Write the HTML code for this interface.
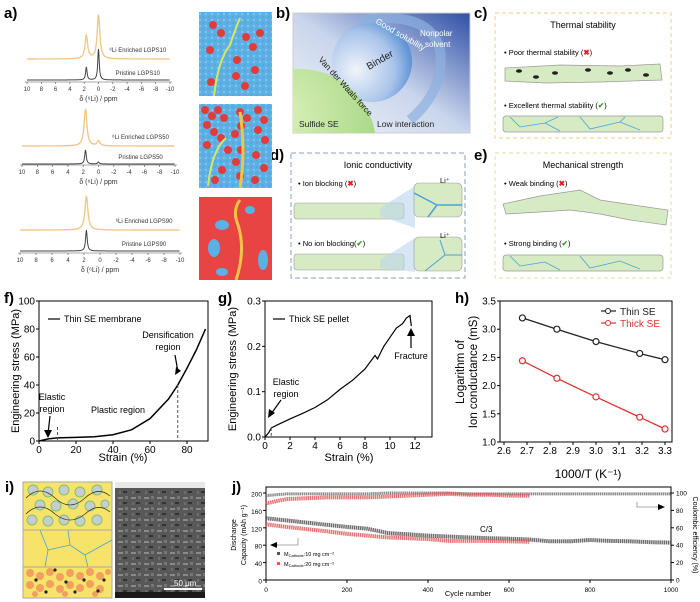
<!DOCTYPE html>
<html><head><meta charset="utf-8"><style>
html,body{margin:0;padding:0;background:#fff}
svg{display:block;font-family:"Liberation Sans",Arial,sans-serif}
</style></head><body>
<svg id="fig" width="700" height="602" viewBox="0 0 700 602" xmlns="http://www.w3.org/2000/svg">
<defs>
<linearGradient id="gb" x1="0" y1="1" x2="1" y2="0"><stop offset="0" stop-color="#f4f6fb"/><stop offset="0.5" stop-color="#c9d5ec"/><stop offset="1" stop-color="#2f4fa6"/></linearGradient>
<radialGradient id="gbind" cx="0.3" cy="0.6" r="0.8"><stop offset="0" stop-color="#f0f4fb"/><stop offset="0.6" stop-color="#a9c4ea"/><stop offset="1" stop-color="#3f7fce"/></radialGradient>
<radialGradient id="ggreen" cx="0.4" cy="0.3" r="0.8"><stop offset="0" stop-color="#d9f0b8"/><stop offset="1" stop-color="#9bd27a"/></radialGradient>
<pattern id="dots" width="6" height="6" patternUnits="userSpaceOnUse"><rect width="6" height="6" fill="#5db0e4"/><circle cx="2" cy="2" r="1.1" fill="#86c6ee"/><circle cx="5" cy="5" r="0.8" fill="#4a9fd6"/></pattern>
<pattern id="sem" width="13" height="11" patternUnits="userSpaceOnUse"><rect width="13" height="11" fill="#585858"/><rect x="1" y="2" width="5" height="2" fill="#8a8a8a"/><rect x="6" y="7" width="4" height="2" fill="#333"/><rect x="8" y="1" width="3" height="3" fill="#777"/><rect x="2" y="7" width="2" height="3" fill="#6d6d6d"/></pattern>
</defs>

<g font-weight="bold" font-size="15">
<text x="4" y="18">a)</text>
<text x="276" y="18">b)</text>
<text x="474" y="18">c)</text>
<text x="270" y="160">d)</text>
<text x="474" y="160">e)</text>
<text x="4" y="303">f)</text>
<text x="218" y="303">g)</text>
<text x="455" y="303">h)</text>
<text x="5" y="492">i)</text>
<text x="232" y="492">j)</text>
</g>

<g id="nmr"></g>

<g>
<rect x="199" y="12" width="73" height="84" fill="url(#dots)"/>
<g fill="#e23b3b"><circle cx="213" cy="25" r="4"/><circle cx="221" cy="33" r="4"/><circle cx="246" cy="37" r="4"/><circle cx="260" cy="33" r="4"/><circle cx="210" cy="50" r="4"/><circle cx="253" cy="47" r="4"/><circle cx="237" cy="60" r="4"/><circle cx="236" cy="76" r="4"/><circle cx="211" cy="82" r="4"/><circle cx="245" cy="86" r="4"/><circle cx="255" cy="70" r="4"/></g>
<path d="M214 96 Q218 60 230 45 Q235 30 240 18" stroke="#d8e85a" stroke-width="2" fill="none"/>
<rect x="199" y="104" width="73" height="84" fill="url(#dots)"/>
<g fill="#e23b3b"><circle cx="205" cy="110" r="4"/><circle cx="212" cy="116" r="4"/><circle cx="218" cy="110" r="4"/><circle cx="224" cy="118" r="4"/><circle cx="207" cy="125" r="4"/><circle cx="214" cy="132" r="4"/><circle cx="221" cy="138" r="4"/><circle cx="207" cy="145" r="4"/><circle cx="240" cy="112" r="4"/><circle cx="247" cy="118" r="4"/><circle cx="241" cy="126" r="4"/><circle cx="235" cy="134" r="4"/><circle cx="241" cy="150" r="4"/><circle cx="236" cy="162" r="4"/><circle cx="240" cy="176" r="4"/><circle cx="258" cy="110" r="4"/><circle cx="264" cy="120" r="4"/><circle cx="258" cy="130" r="4"/><circle cx="265" cy="140" r="4"/><circle cx="256" cy="155" r="4"/><circle cx="264" cy="168" r="4"/><circle cx="255" cy="180" r="4"/><circle cx="222" cy="170" r="4"/><circle cx="215" cy="180" r="4"/><circle cx="228" cy="150" r="4"/></g>
<path d="M208 186 Q212 150 226 138" stroke="#d8e85a" stroke-width="2" fill="none"/><path d="M240 188 Q246 150 240 112" stroke="#f4c542" stroke-width="3" fill="none"/>
<rect x="199" y="197" width="73" height="83" fill="#e84444"/>
<g fill="#5db0e4"><ellipse cx="222" cy="225" rx="7" ry="5"/><ellipse cx="214" cy="248" rx="6" ry="9"/><ellipse cx="263" cy="260" rx="5" ry="10"/><ellipse cx="250" cy="210" rx="5" ry="4"/><ellipse cx="222" cy="272" rx="6" ry="4"/></g>
<path d="M236 280 Q246 250 238 225 Q232 210 240 200" stroke="#f4c542" stroke-width="3" fill="none"/>
</g>

<g>
<rect x="293" y="13" width="177" height="120" fill="url(#gb)" stroke="#ccc"/>
<clipPath id="cb"><rect x="293" y="13" width="177" height="120"/></clipPath>
<g clip-path="url(#cb)">
<circle cx="372" cy="62" r="40" fill="url(#gbind)"/>
<path d="M360 20 Q430 10 440 50 Q445 90 410 120" stroke="#8fb0e0" stroke-width="10" fill="none" opacity="0.7"/>
<circle cx="300" cy="145" r="76" fill="url(#ggreen)"/>
</g>
<text x="369" y="70" font-size="10" fill="#222" transform="rotate(-30 369 70)">Binder</text>
<text x="375" y="23" font-size="8.5" fill="#fff" transform="rotate(30 375 23)">Good solubility</text>
<text x="420" y="36" font-size="8" fill="#fff">Nonpolar</text>
<text x="425" y="47" font-size="8" fill="#fff">solvent</text>
<text x="318" y="60" font-size="8.5" fill="#222" transform="rotate(48 318 60)">Van der Waals force</text>
<text x="299" y="127" font-size="8.5" fill="#222">Sulfide SE</text>
<text x="377" y="127" font-size="8.5" fill="#222">Low interaction</text>
</g>

<g>
<rect x="495" y="13" width="176" height="125" fill="none" stroke="#e8d08a" stroke-dasharray="4,3"/>
<text x="583" y="28" font-size="9" text-anchor="middle">Thermal stability</text>
<text x="504" y="55" font-size="7.5">•    Poor thermal stability (<tspan fill="#e02020" font-weight="bold">✖</tspan>)</text>
<path d="M505 68 L560 65 L620 66 L660 64 L662 80 L600 82 L545 83 L505 81 Z" fill="#d6eac4" stroke="#999" stroke-width="0.7"/>
<g fill="#222"><ellipse cx="519" cy="71" rx="3" ry="1.8"/><ellipse cx="536" cy="77" rx="3" ry="1.8"/><ellipse cx="555" cy="73" rx="3" ry="1.8"/><ellipse cx="588" cy="70" rx="3" ry="1.8"/><ellipse cx="610" cy="73" rx="3" ry="1.8"/><ellipse cx="628" cy="70" rx="3" ry="1.8"/><ellipse cx="646" cy="75" rx="3" ry="1.8"/></g>
<text x="504" y="108" font-size="7.5">•    Excellent thermal stability (<tspan fill="#3a9a2a" font-weight="bold">✔</tspan>)</text>
<rect x="503" y="116" width="160" height="16" rx="3" fill="#d6eac4" stroke="#999" stroke-width="0.7"/>
<path d="M510 117 L520 127 L545 123 L560 131 M545 123 L558 117 M580 117 L590 129 L620 122 L640 130 M620 122 L625 117" stroke="#4aa3d8" stroke-width="0.8" fill="none"/>
</g>

<g>
<rect x="291" y="153" width="174" height="125" fill="none" stroke="#8aa0c0" stroke-dasharray="5,3"/>
<text x="378" y="168" font-size="9" text-anchor="middle">Ionic conductivity</text>
<text x="298" y="186" font-size="7.5">•    Ion blocking (<tspan fill="#e02020" font-weight="bold">✖</tspan>)</text>
<rect x="294" y="203" width="110" height="16" rx="3" fill="#d6eac4" stroke="#999" stroke-width="0.6"/>
<path d="M380 208 L415 186 L415 228 L380 216 Z" fill="#bcd6ee" opacity="0.6"/>
<rect x="414" y="183" width="48" height="34" rx="5" fill="#d6eac4" stroke="#999" stroke-width="0.6"/>
<path d="M414 193 L437 205 L462 205 M437 205 L428 217" stroke="#4aa3d8" stroke-width="1.5" fill="none"/>
<text x="440" y="183" font-size="7.5">Li⁺</text>
<text x="298" y="246" font-size="7.5">•    No ion blocking(<tspan fill="#3a9a2a" font-weight="bold">✔</tspan>)</text>
<rect x="294" y="254" width="110" height="16" rx="3" fill="#d6eac4" stroke="#999" stroke-width="0.6"/>
<path d="M380 260 L415 238 L415 272 L380 268 Z" fill="#bcd6ee" opacity="0.6"/>
<rect x="414" y="237" width="48" height="34" rx="5" fill="#d6eac4" stroke="#999" stroke-width="0.6"/>
<path d="M425 271 L445 255 L462 255 M445 255 L440 240" stroke="#4aa3d8" stroke-width="1" fill="none"/>
<text x="440" y="238" font-size="7.5">Li⁺</text>
</g>

<g>
<rect x="495" y="153" width="176" height="125" fill="none" stroke="#d8e0a0" stroke-dasharray="4,3"/>
<text x="583" y="168" font-size="9" text-anchor="middle">Mechanical strength</text>
<text x="504" y="186" font-size="7.5">•    Weak binding (<tspan fill="#e02020" font-weight="bold">✖</tspan>)</text>
<path d="M503 204 L540 196 L580 190 L600 200 L640 206 L668 210 L666 225 L630 220 L600 214 L570 210 L540 212 L506 214 Z" fill="#d6eac4" stroke="#999" stroke-width="0.7"/>
<text x="504" y="246" font-size="7.5">•    Strong binding (<tspan fill="#3a9a2a" font-weight="bold">✔</tspan>)</text>
<rect x="503" y="255" width="160" height="16" rx="3" fill="#d6eac4" stroke="#999" stroke-width="0.7"/>
<path d="M510 256 L520 266 L545 262 L560 270 M580 256 L590 268 L620 261 L640 269" stroke="#4aa3d8" stroke-width="0.8" fill="none"/>
</g>

<g id="chartF"></g>
<g id="chartG"></g>
<g id="chartH"></g>

<g>
<rect x="23" y="482" width="89" height="48" fill="#f7e36a" stroke="#aaa"/>
<g fill="#c8ccd0" stroke="#7cc56b" stroke-width="1"><circle cx="33" cy="490" r="5"/><circle cx="48" cy="492" r="5"/><circle cx="64" cy="490" r="5"/><circle cx="80" cy="492" r="5"/><circle cx="97" cy="490" r="5"/><circle cx="40" cy="505" r="5"/><circle cx="56" cy="506" r="5"/><circle cx="73" cy="504" r="5"/><circle cx="90" cy="506" r="5"/><circle cx="105" cy="504" r="4"/><circle cx="32" cy="520" r="5"/><circle cx="48" cy="521" r="5"/><circle cx="64" cy="520" r="5"/><circle cx="80" cy="521" r="5"/><circle cx="97" cy="520" r="5"/></g>
<path d="M26 498 Q40 484 55 498 Q70 512 85 498 Q98 486 110 496 M26 514 Q40 500 55 514 Q70 526 85 514 Q98 502 110 512" stroke="#3a3a2a" stroke-width="0.8" fill="none"/>
<rect x="23" y="530" width="89" height="37" fill="#f7e36a" stroke="#aaa"/>
<path d="M40 530 L48 550 L45 567 M48 550 L70 545 L85 555 L112 540 M70 545 L68 530 M85 555 L88 567" stroke="#4aa3d8" stroke-width="0.8" fill="none"/>
<rect x="23" y="567" width="89" height="31" fill="#f7e36a" stroke="#aaa"/>
<g fill="#f2a060"><circle cx="30" cy="573" r="4"/><circle cx="40" cy="576" r="4"/><circle cx="50" cy="572" r="4"/><circle cx="60" cy="577" r="4"/><circle cx="70" cy="573" r="4"/><circle cx="80" cy="576" r="4"/><circle cx="90" cy="572" r="4"/><circle cx="100" cy="576" r="4"/><circle cx="108" cy="572" r="3"/><circle cx="30" cy="585" r="4"/><circle cx="40" cy="588" r="4"/><circle cx="50" cy="584" r="4"/><circle cx="60" cy="589" r="4"/><circle cx="70" cy="585" r="4"/><circle cx="80" cy="588" r="4"/><circle cx="90" cy="584" r="4"/><circle cx="100" cy="589" r="4"/><circle cx="35" cy="594" r="3"/><circle cx="65" cy="594" r="3"/><circle cx="95" cy="594" r="3"/></g>
<g fill="#222"><circle cx="36" cy="580" r="1.6"/><circle cx="55" cy="570" r="1.6"/><circle cx="66" cy="582" r="1.6"/><circle cx="84" cy="580" r="1.6"/><circle cx="98" cy="591" r="1.6"/><circle cx="46" cy="592" r="1.6"/><circle cx="75" cy="592" r="1.6"/><circle cx="104" cy="580" r="1.6"/></g>
<rect x="115" y="482" width="90" height="116" fill="url(#sem)"/>
<rect x="115" y="482" width="90" height="6" fill="#e8e8e8"/>
<rect x="115" y="592" width="90" height="6" fill="#1a1a1a"/>
<line x1="164" y1="589" x2="202" y2="589" stroke="#fff" stroke-width="2"/>
<text x="174" y="586" font-size="8" fill="#fff">50 μm</text>
</g>

<g id="chartJ"></g>
</svg>

<script>
// panel a NMR
const nmrPpm = [1.7, 0.0];
const nmrOrange10 = [23, 44];
const nmrGray10 = [13, 31];
const nmrOrange50 = [37, 5];
const nmrGray50 = [14, 2];
const nmrOrange90 = [34, 0];
const nmrGray90 = [21, 0];
const nmrTicks = [10, 8, 6, 4, 2, 0, -2, -4, -6, -8, -10];

// panel f
const fStrain = [0, 5, 10, 20, 30, 40, 50, 60, 70, 75, 80, 85, 90];
const fStress = [0, 1.5, 2.2, 2.6, 3.0, 4.5, 8, 16, 30, 40, 52, 65, 80];
const fXTicks = [0, 20, 40, 60, 80];
const fYTicks = [0, 20, 40, 60, 80, 100];

// panel g
const gStrain = [0, 0.3, 0.5, 1, 2, 3, 4, 5, 6, 7, 8, 8.8, 9.0, 9.5, 10, 10.5, 11, 11.3, 11.6, 11.7];
const gStress = [0, 0.01, 0.02, 0.027, 0.04, 0.052, 0.065, 0.082, 0.105, 0.125, 0.15, 0.18, 0.172, 0.2, 0.22, 0.24, 0.25, 0.262, 0.268, 0.245];
const gXTicks = [0, 2, 4, 6, 8, 10, 12];
const gYTicks = [0.0, 0.1, 0.2, 0.3];

// panel h
const hX = [2.68, 2.83, 3.0, 3.19, 3.3];
const hThin = [3.2, 3.0, 2.78, 2.57, 2.46];
const hThick = [2.44, 2.13, 1.8, 1.44, 1.23];
const hXTicks = [2.6, 2.7, 2.8, 2.9, 3.0, 3.1, 3.2, 3.3];
const hYTicks = [1.0, 1.5, 2.0, 2.5, 3.0, 3.5];

// panel j
const jCycle = [0, 50, 100, 150, 200, 250, 300, 350, 400, 450, 500, 550, 600, 650, 700, 750, 800, 850, 900, 950, 1000];
const jCap10 = [142, 137, 132, 127, 122, 118, 108, 105, 102, 100, 98, 96, 95, 93, 89, 89, 92, 90, 89, 87, 86];
const jCE10 = [97, 99, 99, 99, 99, 99, 100, 100, 100, 100, 99, 99, 99, 99, 99, 99, 99, 99, 99, 99, 99];
const jCycleR = [0, 50, 100, 150, 200, 250, 300, 350, 400, 450, 500, 550, 600, 650];
const jCap20 = [128, 122, 117, 112, 106, 102, 98, 96, 94, 90, 90, 90, 89, 88];
const jCE20 = [88, 93, 94, 95, 95, 95, 96, 97, 98, 99, 98, 98, 97, 97];
const jXTicks = [0, 200, 400, 600, 800, 1000];
const jYTicks = [0, 40, 80, 120, 160, 200];
const jY2Ticks = [0, 20, 40, 60, 80, 100];

const NS = 'http://www.w3.org/2000/svg';
function mk(parent, tag, attrs, text) {
  const e = document.createElementNS(NS, tag);
  for (const k in attrs) e.setAttribute(k, attrs[k]);
  if (text !== undefined) e.textContent = text;
  parent.appendChild(e);
  return e;
}
function lin(d0, d1, r0, r1) { return v => r0 + (v - d0) * (r1 - r0) / (d1 - d0); }

const nmr = document.getElementById('nmr');
function spectrum(xs, base, heights, color, name, w, sw) {
  let d = '';
  for (let p = 10; p >= -10; p -= 0.05) {
    let y = base;
    for (let i = 0; i < nmrPpm.length; i++) {
      const dx = (p - nmrPpm[i]) / w;
      y -= heights[i] / (1 + dx * dx);
    }
    d += (d ? 'L' : 'M') + xs(p).toFixed(1) + ' ' + y.toFixed(1);
  }
  const el = mk(nmr, 'path', { d: d, stroke: color, 'stroke-width': sw, fill: 'none' });
  
  
}
const nmrPanels = [
  { x0: 27, x1: 170, axisY: 82, oBase: 59, gBase: 80, o: nmrOrange10, g: nmrGray10, lab: 'LGPS10' },
  { x0: 22, x1: 175, axisY: 165, oBase: 146, gBase: 164, o: nmrOrange50, g: nmrGray50, lab: 'LGPS50' },
  { x0: 20, x1: 180, axisY: 253, oBase: 230, gBase: 251, o: nmrOrange90, g: nmrGray90, lab: 'LGPS90' }
];
nmrPanels.forEach((P, idx) => {
  const xs = lin(10, -10, P.x0, P.x1);
  spectrum(xs, P.oBase, P.o, '#f0c98a', 'spectrum-enriched-' + idx, 0.22, 1.4);
  spectrum(xs, P.gBase, P.g, '#444', 'spectrum-pristine-' + idx, 0.12, 1);
  const ax = mk(nmr, 'line', { x1: P.x0 - 2, x2: P.x1 + 2, y1: P.axisY, y2: P.axisY, stroke: '#555', 'stroke-width': 0.6 });
  
  
  nmrTicks.forEach(t => {
    mk(nmr, 'line', { x1: xs(t), x2: xs(t), y1: P.axisY, y2: P.axisY + 2, stroke: '#555', 'stroke-width': 0.6 });
    const tl = mk(nmr, 'text', { x: xs(t), y: P.axisY + 9, 'font-size': 6, 'text-anchor': 'middle', fill: '#333' }, t);
    
    
  });
  const tt = mk(nmr, 'text', { x: xs(0), y: P.axisY + 19, 'font-size': 7, 'text-anchor': 'middle', fill: '#333' }, 'δ (⁶Li) / ppm');
  
  
  const l1 = mk(nmr, 'text', { x: xs(-5.5), y: P.oBase - 7, 'font-size': 6, 'text-anchor': 'middle', fill: '#333' }, '⁶Li Enriched ' + P.lab);
  
  
  const l2 = mk(nmr, 'text', { x: xs(-5.5), y: P.gBase - 5, 'font-size': 6, 'text-anchor': 'middle', fill: '#333' }, 'Pristine ' + P.lab);
  
  
});

function axesBox(g, L, R, T, B, xs, ys, xt, yt, fmtX, fmtY, fs) {
  const box = mk(g, 'rect', { x: L, y: T, width: R - L, height: B - T, fill: 'none', stroke: '#000', 'stroke-width': 1 });
  
  
  xt.forEach(t => {
    mk(g, 'line', { x1: xs(t), x2: xs(t), y1: B, y2: B + 3, stroke: '#000' });
    const e = mk(g, 'text', { x: xs(t), y: B + 12, 'font-size': fs, 'text-anchor': 'middle' }, fmtX(t));
    
    
  });
  yt.forEach(t => {
    mk(g, 'line', { x1: L - 3, x2: L, y1: ys(t), y2: ys(t), stroke: '#000' });
    const e = mk(g, 'text', { x: L - 4, y: ys(t) + 3.5, 'font-size': fs, 'text-anchor': 'end' }, fmtY(t));
    
    
  });
}
function polyPath(xs, ys, X, Y) {
  return X.map((v, i) => (i ? 'L' : 'M') + xs(v).toFixed(1) + ' ' + ys(Y[i]).toFixed(1)).join('');
}

(function () {
  const g = document.getElementById('chartF');
  const L = 39, R = 208, T = 301, B = 441;
  const xs = lin(0, 80, 39, 187), ys = lin(0, 100, B, T);
  axesBox(g, L, R, T, B, xs, ys, fXTicks, fYTicks, String, String, 10);
  const c = mk(g, 'path', { d: polyPath(xs, ys, fStrain, fStress), stroke: '#000', 'stroke-width': 1.5, fill: 'none' });
  
  
  mk(g, 'line', { x1: xs(10), x2: xs(10), y1: ys(10), y2: B, stroke: '#555', 'stroke-dasharray': '3,2' });
  mk(g, 'line', { x1: xs(75), x2: xs(75), y1: ys(40), y2: B, stroke: '#555', 'stroke-dasharray': '3,2' });
  mk(g, 'line', { x1: 48, x2: 60, y1: 319, y2: 319, stroke: '#000', 'stroke-width': 1.2 });
  const t = [['Thin SE membrane', 64, 322, 'start', 'legend-thin-se-membrane'], ['Densification', 168, 338, 'middle', 'densification-label'], ['region', 168, 350, 'middle', 'densification-label-2'], ['Elastic', 52, 400, 'middle', 'elastic-label'], ['region', 52, 412, 'middle', 'elastic-label-2'], ['Plastic region', 118, 413, 'middle', 'plastic-label']];
  t.forEach(a => { const e = mk(g, 'text', { x: a[1], y: a[2], 'font-size': 9, 'text-anchor': a[3] }, a[0]);   });
  mk(g, 'path', { d: 'M175 355 L178 372', stroke: '#000', 'stroke-width': 1.2, fill: 'none' });
  mk(g, 'path', { d: 'M175 375 L176 367 L181 371 Z', fill: '#000' });
  mk(g, 'path', { d: 'M50 416 L48 434', stroke: '#000', 'stroke-width': 1.2 });
  mk(g, 'path', { d: 'M48 438 L44 430 L52 430 Z', fill: '#000' });
  const xt = mk(g, 'text', { x: 123, y: 461, 'font-size': 11, 'text-anchor': 'middle' }, 'Strain (%)');
  
  
  const yt = mk(g, 'text', { x: 19, y: 371, 'font-size': 11, 'text-anchor': 'middle', transform: 'rotate(-90 19 371)' }, 'Engineering stress (MPa)');
  
  
})();

(function () {
  const g = document.getElementById('chartG');
  const L = 265, R = 432, T = 301, B = 437;
  const xs = lin(0, 12, 265, 415), ys = lin(0, 0.3, B, T);
  axesBox(g, L, R, T, B, xs, ys, gXTicks, gYTicks, String, v => v.toFixed(1), 10);
  const c = mk(g, 'path', { d: polyPath(xs, ys, gStrain, gStress), stroke: '#000', 'stroke-width': 1.2, fill: 'none' });
  
  
  mk(g, 'line', { x1: xs(0.5), x2: xs(0.5), y1: ys(0.02), y2: B, stroke: '#555', 'stroke-dasharray': '3,2' });
  mk(g, 'line', { x1: 273, x2: 285, y1: 319, y2: 319, stroke: '#000', 'stroke-width': 1.2 });
  const t = [['Thick SE pellet', 289, 322, 'start', 'legend-thick-se-pellet'], ['Elastic', 286, 385, 'middle', 'elastic-label'], ['region', 286, 397, 'middle', 'elastic-label-2'], ['Fracture', 411, 359, 'middle', 'fracture-label']];
  t.forEach(a => { const e = mk(g, 'text', { x: a[1], y: a[2], 'font-size': 9, 'text-anchor': a[3] }, a[0]);   });
  mk(g, 'path', { d: 'M281 400 L271 414', stroke: '#000', 'stroke-width': 1.2 });
  mk(g, 'path', { d: 'M268 418 L269 409 L275 413 Z', fill: '#000' });
  mk(g, 'path', { d: 'M411 348 L411 333', stroke: '#000', 'stroke-width': 1.2 });
  mk(g, 'path', { d: 'M411 328 L407 336 L415 336 Z', fill: '#000' });
  const xt = mk(g, 'text', { x: 349, y: 461, 'font-size': 11, 'text-anchor': 'middle' }, 'Strain (%)');
  
  
  const yt = mk(g, 'text', { x: 236, y: 369, 'font-size': 11, 'text-anchor': 'middle', transform: 'rotate(-90 236 369)' }, 'Engineering stress (MPa)');
  
  
})();

(function () {
  const g = document.getElementById('chartH');
  const L = 500, R = 672, T = 301, B = 442;
  const xs = lin(2.6, 3.3, 504, 665), ys = lin(1.0, 3.5, B, T);
  axesBox(g, L, R, T, B, xs, ys, hXTicks, hYTicks, v => v.toFixed(1), v => v.toFixed(1), 10);
  [[hThin, '#222', 'thin-se'], [hThick, '#d33', 'thick-se']].forEach(s => {
    const p = mk(g, 'path', { d: polyPath(xs, ys, hX, s[0]), stroke: s[1], 'stroke-width': 1.3, fill: 'none' });
    
    
    hX.forEach((x, i) => {
      const c = mk(g, 'circle', { cx: xs(x), cy: ys(s[0][i]), r: 3, fill: '#fff', stroke: s[1], 'stroke-width': 1.2 });
      
      
    });
  });
  [['Thin SE', '#222', 314, 'legend-thin-se'], ['Thick SE', '#d33', 326, 'legend-thick-se']].forEach(a => {
    mk(g, 'line', { x1: 601, x2: 616, y1: a[2] - 3, y2: a[2] - 3, stroke: a[1], 'stroke-width': 1.2 });
    mk(g, 'circle', { cx: 608, cy: a[2] - 3, r: 2.5, fill: '#fff', stroke: a[1] });
    const e = mk(g, 'text', { x: 620, y: a[2] + 1, 'font-size': 10, fill: a[1] }, a[0]);
    
    
  });
  const xt = mk(g, 'text', { x: 588, y: 478, 'font-size': 12, 'text-anchor': 'middle' }, '1000/T (K⁻¹)');
  
  
  const y1 = mk(g, 'text', { x: 464, y: 372, 'font-size': 11.5, 'text-anchor': 'middle', transform: 'rotate(-90 464 372)' }, 'Logarithm of');
  
  
  const y2 = mk(g, 'text', { x: 477, y: 372, 'font-size': 11.5, 'text-anchor': 'middle', transform: 'rotate(-90 477 372)' }, 'Ion conductance (mS)');
  
  
})();

(function () {
  const g = document.getElementById('chartJ');
  const L = 266, R = 671, T = 487, B = 580;
  const xs = lin(0, 1000, L, R), ys = lin(0, 200, B, 493), ys2 = lin(0, 100, B, 493);
  axesBox(g, L, R, T, B, xs, ys, jXTicks, jYTicks, String, String, 6.5);
  jY2Ticks.forEach(t => {
    mk(g, 'line', { x1: R, x2: R + 3, y1: ys2(t), y2: ys2(t), stroke: '#000' });
    const e = mk(g, 'text', { x: R + 5, y: ys2(t) + 2.5, 'font-size': 6.5 }, t);
    
    
  });
  const series = [
    [jCycle, jCE10, ys2, '#777', 'ce-10mg', 3], [jCycle, jCap10, ys, '#555', 'capacity-10mg', 4],
    [jCycleR, jCE20, ys2, '#e05a5a', 'ce-20mg', 4], [jCycleR, jCap20, ys, '#e05a5a', 'capacity-20mg', 4]
  ];
  series.forEach(s => {
    const p = mk(g, 'path', { d: polyPath(xs, s[2], s[0], s[1]), stroke: s[3], 'stroke-width': s[5], fill: 'none', opacity: 0.85, 'stroke-dasharray': '1.5,0.6' });
    
    
  });
  mk(g, 'path', { d: 'M298 538 L298 545 L273 545', stroke: '#aaa', fill: 'none' });
  mk(g, 'path', { d: 'M270 545 L277 542 L277 548 Z', fill: '#000' });
  mk(g, 'path', { d: 'M637 502 L637 507 L662 507', stroke: '#aaa', fill: 'none' });
  mk(g, 'path', { d: 'M665 507 L658 504 L658 510 Z', fill: '#000' });
  const c3 = mk(g, 'text', { x: 480, y: 532, 'font-size': 8 }, 'C/3');
  
  
  [['#555', 556, '10', 'legend-10mg'], ['#e05a5a', 566, '20', 'legend-20mg']].forEach(a => {
    mk(g, 'rect', { x: 277, y: a[1] - 4, width: 3, height: 3, fill: a[0] });
    const e = mk(g, 'text', { x: 284, y: a[1], 'font-size': 5.5 }, '');
    e.innerHTML = 'M<tspan font-size="4" dy="1">Cathode</tspan><tspan dy="-1">:' + a[2] + ' mg cm⁻²</tspan>';
    
    
  });
  const xt = mk(g, 'text', { x: 468, y: 596, 'font-size': 7.5, 'text-anchor': 'middle' }, 'Cycle number');
  
  
  const y1 = mk(g, 'text', { x: 236, y: 535, 'font-size': 7, 'text-anchor': 'middle', transform: 'rotate(-90 236 535)' }, 'Discharge');
  
  
  const y2 = mk(g, 'text', { x: 246, y: 535, 'font-size': 7, 'text-anchor': 'middle', transform: 'rotate(-90 246 535)' }, 'Capacity (mAh g⁻¹)');
  
  
  const y3 = mk(g, 'text', { x: 693, y: 535, 'font-size': 7, 'text-anchor': 'middle', transform: 'rotate(90 693 535)' }, 'Coulombic efficiency (%)');
  
  
})();
</script>
</body></html>
